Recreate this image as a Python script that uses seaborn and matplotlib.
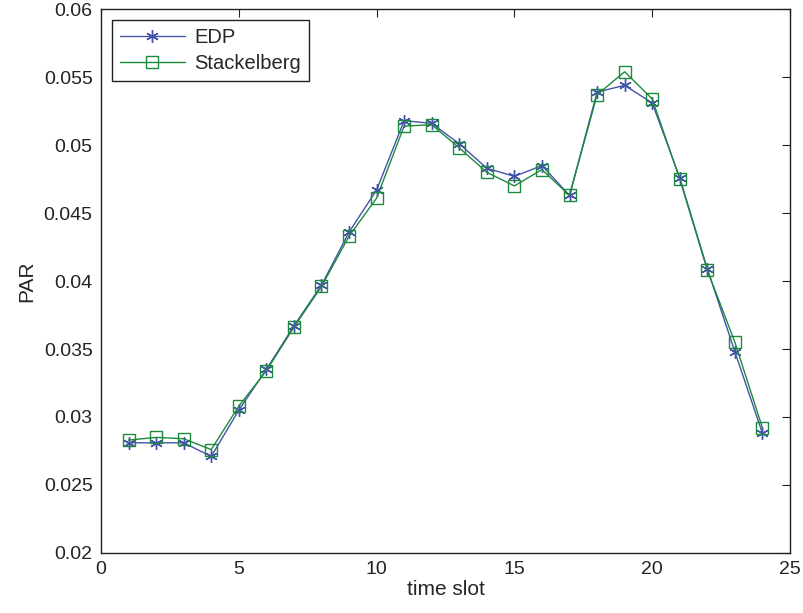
import matplotlib
matplotlib.use("Agg")
import matplotlib.pyplot as plt
import seaborn as sns
import pandas as pd

slots = list(range(1, 25))
edp = [0.0281, 0.0281, 0.0281, 0.0271, 0.0305, 0.0335, 0.0367, 0.0397, 0.0436, 0.0467,
       0.0518, 0.0516, 0.0501, 0.0483, 0.0477, 0.0485, 0.0463, 0.0539, 0.0544, 0.0531,
       0.0476, 0.0409, 0.0348, 0.0288]
stack = [0.0283, 0.0285, 0.0284, 0.0276, 0.0308, 0.0334, 0.0366, 0.0396, 0.0433, 0.0461,
         0.0514, 0.0515, 0.0498, 0.0480, 0.0470, 0.0482, 0.0463, 0.0537, 0.0554, 0.0534,
         0.0475, 0.0408, 0.0355, 0.0292]
series_names = ["EDP", "Stackelberg"]
xticks = [0, 5, 10, 15, 20, 25]
yticks = [0.02, 0.025, 0.03, 0.035, 0.04, 0.045, 0.05, 0.055, 0.06]
ytick_labels = ["0.02", "0.025", "0.03", "0.035", "0.04", "0.045", "0.05", "0.055", "0.06"]

sns.set_style("white")
plt.rcParams['font.family'] = ['Liberation Sans', 'DejaVu Sans']

fig = plt.figure(figsize=(8.04, 6.13), dpi=100)
ax = fig.add_axes([0.1256, 0.098, 0.857, 0.887])

colors = {"EDP": "#4353a9", "Stackelberg": "#1b8a3c"}
markers = {"EDP": (6, 2, 0), "Stackelberg": "s"}
for name, vals in zip(series_names, [edp, stack]):
    df = pd.DataFrame({"time slot": slots, "PAR": vals})
    sns.lineplot(data=df, x="time slot", y="PAR", ax=ax, color=colors[name],
                 linewidth=1.0, marker=markers[name], markersize=9,
                 markerfacecolor="none", markeredgecolor=colors[name],
                 markeredgewidth=1.0, label=name)

ax.set_xlim(0, 25)
ax.set_ylim(0.02, 0.06)
ax.set_xticks(xticks)
ax.set_yticks(yticks)
ax.set_yticklabels(ytick_labels)
ax.set_xlabel("time slot", fontsize=15, labelpad=1)
ax.set_ylabel("PAR", fontsize=15, labelpad=5)
ax.tick_params(direction="in", top=True, right=True, length=5.5, width=0.8,
               labelsize=14, colors="#222222", pad=6)
for s in ax.spines.values():
    s.set_visible(True)
    s.set_color("#222222")
    s.set_linewidth(1.0)

leg = ax.legend(loc="upper left", fontsize=14.5, frameon=True, fancybox=False,
                edgecolor="#222222", borderaxespad=0.55, handlelength=3.2,
                borderpad=0.4, labelspacing=0.35, handletextpad=0.5)
leg.get_frame().set_linewidth(1.0)
leg.get_frame().set_alpha(1)

fig.savefig("out.png", dpi=100)
